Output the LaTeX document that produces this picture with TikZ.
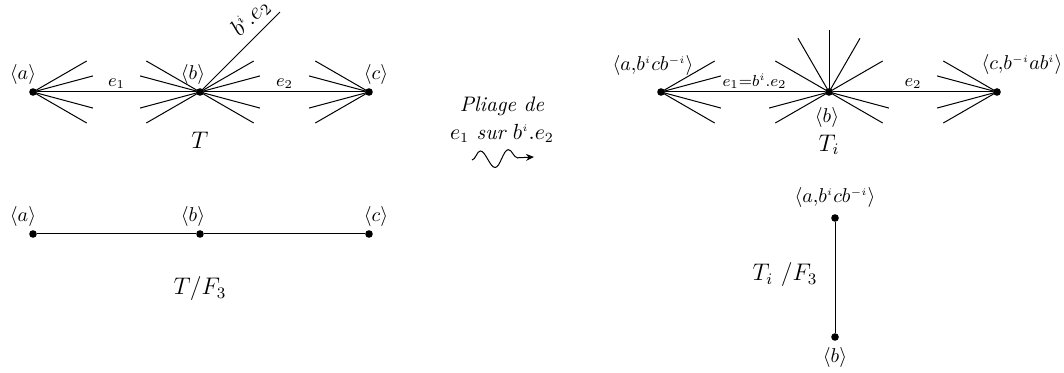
\documentclass[tikz,border=0pt]{standalone}
\usetikzlibrary{arrows.meta,positioning,calc,decorations.pathmorphing}
\newcommand{\tp}[1]{^{\scriptscriptstyle #1}}

\begin{document}
\begin{tikzpicture}[
  x=0.5pt, y=0.5pt, line width=0.5pt,
  vert/.style={circle, fill=black, inner sep=0pt, minimum size=3.8pt},
  spoke/.style={line width=0.5pt},
  lab/.style={inner sep=0pt, font=\normalsize},
  elab/.style={inner sep=1.5pt, font=\small},
  title/.style={inner sep=0pt, font=\large},
  wave/.style={decorate, decoration={snake, amplitude=4.3pt, segment length=14pt, post length=2.5pt},
               -{Stealth[length=4pt, width=3.5pt]}},
]
\useasboundingbox (0,0) rectangle (1064,-373);

% ---- tree T (top left) ----
\node[vert] (aT) at (33,-92) {};
\node[vert] (bT) at (200,-92) {};
\node[vert] (cT) at (369,-92) {};
\foreach \t in {15,30,-15,-30} \draw[spoke] (aT.center) -- ++(\t:62);
\foreach \t in {15,30,-15,-30,150,165,195,210} \draw[spoke] (bT.center) -- ++(\t:62);
\foreach \t in {150,165,195,210} \draw[spoke] (cT.center) -- ++(\t:62);
\draw (aT) -- node[elab, above] {$e_1$} (bT);
\draw (bT) -- node[elab, above] {$e_2$} (cT);
\coordinate (bie) at ($(bT)+(45:113)$);
\draw (bT.center) -- node[elab, sloped, above=1.5pt, pos=0.78, font=\large] {$b\tp{i}.e_2$} (bie);
\node[lab] (la) at ($(aT)+(-10,17)$) {$\langle a\rangle$};
\node[lab] (lb) at ($(bT)+(-7,17)$) {$\langle b\rangle$};
\node[lab] (lc) at ($(cT)+(7,17)$) {$\langle c\rangle$};
\node[title] (tT) at ($(bT)+(0,-48)$) {$T$};

% ---- quotient T/F_3 (bottom left) ----
\node[vert] (aQ) at (33,-234) {};
\node[vert] (bQ) at (200,-234) {};
\node[vert] (cQ) at (369,-234) {};
\draw (aQ) -- (bQ) -- (cQ);
\node[lab] (qa) at ($(aQ)+(-10,17)$) {$\langle a\rangle$};
\node[lab] (qb) at ($(bQ)+(-7,17)$) {$\langle b\rangle$};
\node[lab] (qc) at ($(cQ)+(7,17)$) {$\langle c\rangle$};
\node[title] (tQ) at ($(bQ)+(0,-55)$) {$T/F_3$};

% ---- folding (middle) ----
\node[align=center, inner sep=0pt, font=\fontsize{10.5}{14}\selectfont\itshape] (fold) at (502,-120)
  {Pliage de\\$e_1$ sur $b\tp{i}.e_2$};
\coordinate (w0) at (472,-160);
\coordinate (w1) at (534,-157);
\draw[wave] (w0) -- (w1);

% ---- tree T_i (top right) ----
\node[vert] (aTi) at (661,-92) {};
\node[vert] (bTi) at (829,-92) {};
\node[vert] (cTi) at (997,-92) {};
\foreach \t in {15,30,-15,-30} \draw[spoke] (aTi.center) -- ++(\t:62);
\foreach \t in {30,60,90,120,150,-15,-30,195,210} \draw[spoke] (bTi.center) -- ++(\t:62);
\foreach \t in {150,165,195,210} \draw[spoke] (cTi.center) -- ++(\t:62);
\draw (aTi) -- node[elab, above, pos=0.56, font=\footnotesize] {$e_1{=}b\tp{i}.e_2$} (bTi);
\draw (bTi) -- node[elab, above] {$e_2$} (cTi);
\node[lab] (ia) at ($(aTi)+(-8,26)$) {$\langle a{,}b\tp{i}cb\tp{-i}\rangle$};
\node[lab] (ib) at ($(bTi)+(-2,-26)$) {$\langle b\rangle$};
\node[lab] (ic) at ($(cTi)+(25,27)$) {$\langle c{,}b\tp{-i}ab\tp{i}\rangle$};
\node[title] (tTi) at ($(bTi)+(0,-53)$) {$T_i$};

% ---- quotient T_i/F_3 (bottom right) ----
\node[vert] (aQi) at (835,-218) {};
\node[vert] (bQi) at (835,-337) {};
\draw (aQi) -- (bQi);
\node[lab] (qia) at ($(aQi)+(0,20)$) {$\langle a{,}b\tp{i}cb\tp{-i}\rangle$};
\node[lab] (qib) at ($(bQi)+(0,-20)$) {$\langle b\rangle$};
\node[title] (tQi) at (785,-275) {$T_i\ /F_3$};
\end{tikzpicture}
\end{document}
